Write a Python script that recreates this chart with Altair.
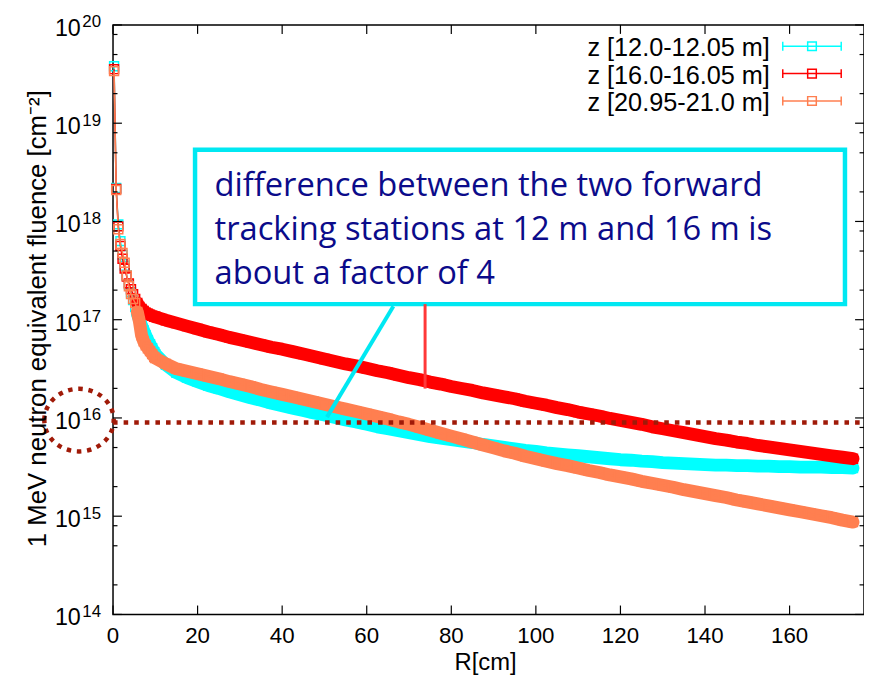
import altair as alt
import pandas as pd

# ---------------- data ----------------
R_cm = [0.25, 0.75, 1.25, 1.75, 2.25, 2.75, 3.25, 3.75, 4.25, 4.75,
        5.25, 5.75, 6.25, 6.75, 7.25, 7.75, 8.25, 8.75, 9.25, 9.75,
        10, 12.5, 15, 17.5, 20, 22.5, 25, 27.5, 30, 32.5,
        35, 37.5, 40, 42.5, 45, 47.5, 50, 52.5, 55, 57.5,
        60, 62.5, 65, 67.5, 70, 72.5, 75, 77.5, 80, 82.5,
        85, 87.5, 90, 92.5, 95, 97.5, 100, 102.5, 105, 107.5,
        110, 112.5, 115, 117.5, 120, 122.5, 125, 127.5, 130, 132.5,
        135, 137.5, 140, 142.5, 145, 147.5, 150, 152.5, 155, 157.5,
        160, 162.5, 165, 167.5, 170, 172.5, 175]

# log10 of the 1 MeV neutron equivalent fluence [cm^-2]
lg_z12 = [19.58, 18.34, 17.97, 17.80, 17.66, 17.55, 17.45, 17.36, 17.28, 17.20,
          17.13, 17.06, 17.00, 16.94, 16.89, 16.84, 16.79, 16.75, 16.71, 16.67,
          16.65, 16.54, 16.46, 16.41, 16.37, 16.33, 16.30, 16.265, 16.235, 16.205,
          16.18, 16.15, 16.125, 16.10, 16.075, 16.05, 16.03, 16.005, 15.98, 15.96,
          15.935, 15.91, 15.89, 15.87, 15.85, 15.83, 15.81, 15.795, 15.78, 15.765,
          15.75, 15.73, 15.715, 15.70, 15.685, 15.67, 15.66, 15.645, 15.635, 15.625,
          15.615, 15.605, 15.595, 15.585, 15.575, 15.57, 15.56, 15.555, 15.545, 15.54,
          15.535, 15.53, 15.525, 15.52, 15.52, 15.515, 15.515, 15.51, 15.51, 15.505,
          15.505, 15.50, 15.50, 15.50, 15.495, 15.495, 15.49]

lg_z16 = [19.55, 18.33, 17.95, 17.75, 17.62, 17.52, 17.44, 17.37, 17.31, 17.26,
          17.21, 17.17, 17.13, 17.11, 17.09, 17.07, 17.06, 17.05, 17.04, 17.03,
          17.03, 16.995, 16.965, 16.935, 16.905, 16.875, 16.85, 16.82, 16.795, 16.77,
          16.745, 16.72, 16.70, 16.675, 16.65, 16.625, 16.60, 16.575, 16.55, 16.53,
          16.505, 16.48, 16.46, 16.435, 16.41, 16.39, 16.365, 16.345, 16.32, 16.30,
          16.28, 16.255, 16.235, 16.215, 16.195, 16.17, 16.15, 16.13, 16.105, 16.085,
          16.06, 16.04, 16.02, 15.995, 15.975, 15.955, 15.935, 15.91, 15.89, 15.87,
          15.85, 15.83, 15.81, 15.79, 15.775, 15.755, 15.74, 15.72, 15.705, 15.69,
          15.675, 15.66, 15.645, 15.63, 15.615, 15.60, 15.585]

lg_z21 = [19.53, 18.32, 17.92, 17.77, 17.68, 17.58, 17.45, 17.34, 17.26, 17.21,
          17.17, 17.08, 16.98, 16.84, 16.78, 16.74, 16.71, 16.68, 16.65, 16.62,
          16.61, 16.55, 16.50, 16.475, 16.45, 16.425, 16.40, 16.37, 16.345, 16.32,
          16.29, 16.265, 16.24, 16.215, 16.19, 16.165, 16.14, 16.115, 16.09, 16.065,
          16.04, 16.015, 15.99, 15.96, 15.935, 15.905, 15.875, 15.845, 15.815, 15.785,
          15.755, 15.725, 15.695, 15.665, 15.64, 15.61, 15.585, 15.56, 15.535, 15.515,
          15.49, 15.465, 15.445, 15.42, 15.40, 15.38, 15.355, 15.335, 15.315, 15.295,
          15.27, 15.25, 15.23, 15.21, 15.19, 15.165, 15.145, 15.125, 15.105, 15.085,
          15.065, 15.045, 15.025, 15.005, 14.985, 14.96, 14.94]

series_names = ["z [12.0-12.05 m]", "z [16.0-16.05 m]", "z [20.95-21.0 m]"]
series_colors = ["#00FFFF", "#FF0000", "#FF7F50"]
series_logs = [lg_z12, lg_z16, lg_z21]

x_ticks = [0, 20, 40, 60, 80, 100, 120, 140, 160]
y_exps = [14, 15, 16, 17, 18, 19, 20]
y_minor_mantissas = [2, 5, 8]

note_lines = ["difference between the two forward",
              "tracking stations at 12 m and 16 m is",
              "about a factor of 4"]
note_R = [24.0, 24.0, 24.0]
note_flu = [1.81e18, 6.43e17, 2.29e17]
box_R = [19.4, 173.1]
box_flu = [5.38e18, 1.44e17]
cyan_callout_R = [66.3, 50.6]
cyan_callout_flu = [1.37e17, 1.02e16]
red_callout_R = [73.8, 73.8]
red_callout_flu = [1.44e17, 1.99e16]
limit_flu = 9.0e15
circle_R = -8.04
circle_flu = 9.5e15

# ---------------- build ----------------
W, H = 758, 595
FONT = "Liberation Sans"
xs = alt.Scale(domain=[0, 177.6], nice=False, zero=False)
ys = alt.Scale(type="log", domain=[1e14, 1e20], nice=False)

rows = []
for name, lg in zip(series_names, series_logs):
    assert len(lg) == len(R_cm)
    for r, v in zip(R_cm, lg):
        rows.append({"series": name, "R": r, "flu": 10 ** v})
df = pd.DataFrame(rows)

X = alt.X("R:Q", scale=xs, axis=None)
Y = alt.Y("flu:Q", scale=ys, axis=None)

layers = []
for name, color in zip(series_names, series_colors):
    base = alt.Chart(df).transform_filter(alt.datum.series == name)
    layers.append(base.transform_filter(alt.datum.R >= 5.5).mark_line(
        color=color, strokeWidth=13, strokeJoin="round", strokeCap="round").encode(x=X, y=Y))
    layers.append(base.mark_line(color=color, strokeWidth=1.5).encode(x=X, y=Y))
    layers.append(base.mark_point(shape="square", filled=False, size=81, strokeWidth=1.5,
                                  color=color, opacity=1).encode(x=X, y=Y))

one = pd.DataFrame({"a": [0]})

# 1e16 limit line (dotted) and dotted ellipse round the label
layers.append(alt.Chart(pd.DataFrame({"R": [0], "R2": [177.6], "flu": [limit_flu]})).mark_rule(
    color="#A01A08", strokeWidth=4.5, strokeDash=[4.6, 6.1]).encode(
    x=X, x2="R2:Q", y=Y))
ellipse = ("M -1 0 C -1 -0.499 -0.552 -0.903 0 -0.903 C 0.552 -0.903 1 -0.499 1 0 "
           "C 1 0.499 0.552 0.903 0 0.903 C -0.552 0.903 -1 0.499 -1 0 Z")
layers.append(alt.Chart(pd.DataFrame({"R": [circle_R], "flu": [circle_flu]})).mark_point(
    shape=ellipse, filled=False, size=4900, strokeWidth=4.5, strokeDash=[4.5, 5.8],
    color="#A01A08", opacity=1).encode(x=X, y=Y))

# annotation box, text and callouts
layers.append(alt.Chart(pd.DataFrame({"R": [box_R[0]], "R2": [box_R[1]],
                                      "flu": [box_flu[0]], "flu2": [box_flu[1]]})).mark_rect(
    fill="white", stroke="#00E8F2", strokeWidth=4.5).encode(x=X, x2="R2:Q", y=Y, y2="flu2:Q"))
layers.append(alt.Chart(pd.DataFrame({"R": note_R, "flu": note_flu, "label": note_lines})).mark_text(
    align="left", baseline="alphabetic", font="Open Sans", fontSize=33, color="#0B0B8A").encode(
    x=X, y=Y, text="label:N"))
layers.append(alt.Chart(pd.DataFrame({"R": [cyan_callout_R[0]], "R2": [cyan_callout_R[1]],
                                      "flu": [cyan_callout_flu[0]], "flu2": [cyan_callout_flu[1]]})).mark_rule(
    color="#00E8F2", strokeWidth=4).encode(x=X, x2="R2:Q", y=Y, y2="flu2:Q"))
layers.append(alt.Chart(pd.DataFrame({"R": [red_callout_R[0]], "R2": [red_callout_R[1]],
                                      "flu": [red_callout_flu[0]], "flu2": [red_callout_flu[1]]})).mark_rule(
    color="#FF3838", strokeWidth=3).encode(x=X, x2="R2:Q", y=Y, y2="flu2:Q"))

# ticks (inward, gnuplot style)
xt = pd.DataFrame({"R": x_ticks, "label": [str(t) for t in x_ticks]})
layers.append(alt.Chart(xt).mark_rule(color="black", strokeWidth=1.2).encode(
    x=X, y=alt.value(H), y2=alt.value(H - 9)))
layers.append(alt.Chart(xt).mark_rule(color="black", strokeWidth=1.2).encode(
    x=X, y=alt.value(0), y2=alt.value(9)))
yt = pd.DataFrame({"flu": [10.0 ** e for e in y_exps], "sup": [str(e) for e in y_exps],
                   "ten": ["10"] * len(y_exps)})
ym = pd.DataFrame({"flu": [m * 10.0 ** e for e in y_exps[:-1] for m in y_minor_mantissas]})
for x1, x2, d in [(0, 9, yt), (W - 9, W, yt), (0, 4.5, ym), (W - 4.5, W, ym)]:
    layers.append(alt.Chart(d).mark_rule(color="black", strokeWidth=1.2).encode(
        y=Y, x=alt.value(x1), x2=alt.value(x2)))

# tick labels
layers.append(alt.Chart(xt).mark_text(align="center", baseline="alphabetic", font=FONT,
                                      fontSize=22.5, color="black").encode(
    x=X, y=alt.value(H + 28.5), text="label:N"))
layers.append(alt.Chart(yt).mark_text(align="right", baseline="alphabetic", font=FONT,
                                      fontSize=23.5, dy=11, color="black").encode(
    y=Y, x=alt.value(-32.5), text="ten:N"))
layers.append(alt.Chart(yt).mark_text(align="left", baseline="alphabetic", font=FONT,
                                      fontSize=17, dy=2.5, color="black").encode(
    y=Y, x=alt.value(-31), text="sup:N"))

# axis titles
layers.append(alt.Chart(one).mark_text(align="center", baseline="alphabetic", font=FONT,
                                       fontSize=24, color="black", text="R[cm]").encode(
    x=alt.value(376), y=alt.value(651)))
layers.append(alt.Chart(one).mark_text(align="center", baseline="alphabetic", font=FONT,
                                       fontSize=26, color="black", angle=270,
                                       text="1 MeV neutron equivalent fluence [cm\u207b\u00b2]").encode(
    x=alt.value(-67.3), y=alt.value(296.5)))

# legend (gnuplot style, with x error bar samples)
for i, (name, color) in enumerate(zip(series_names, series_colors)):
    yc = 21.5 + 27.6 * i
    layers.append(alt.Chart(pd.DataFrame({"label": [name]})).mark_text(
        align="right", baseline="alphabetic", font=FONT, fontSize=25.5, color="black").encode(
        x=alt.value(663), y=alt.value(yc + 10), text="label:N"))
    layers.append(alt.Chart(one).mark_rule(color=color, strokeWidth=1.5).encode(
        x=alt.value(676), x2=alt.value(735), y=alt.value(yc)))
    for xcap in (676, 735):
        layers.append(alt.Chart(one).mark_rule(color=color, strokeWidth=1.5).encode(
            x=alt.value(xcap), y=alt.value(yc - 4.5), y2=alt.value(yc + 4.5)))
    layers.append(alt.Chart(one).mark_point(shape="square", filled=False, size=76, strokeWidth=1.5,
                                            color=color, opacity=1).encode(
        x=alt.value(705.5), y=alt.value(yc)))

chart = alt.layer(*layers).properties(
    width=W, height=H,
    autosize=alt.AutoSizeParams(type="none"),
    padding={"left": 106, "top": 14, "right": 0, "bottom": 58},
).configure_view(stroke="black", strokeWidth=1.5)

chart.save("out.html", embed_options={"renderer": "svg", "actions": False})
